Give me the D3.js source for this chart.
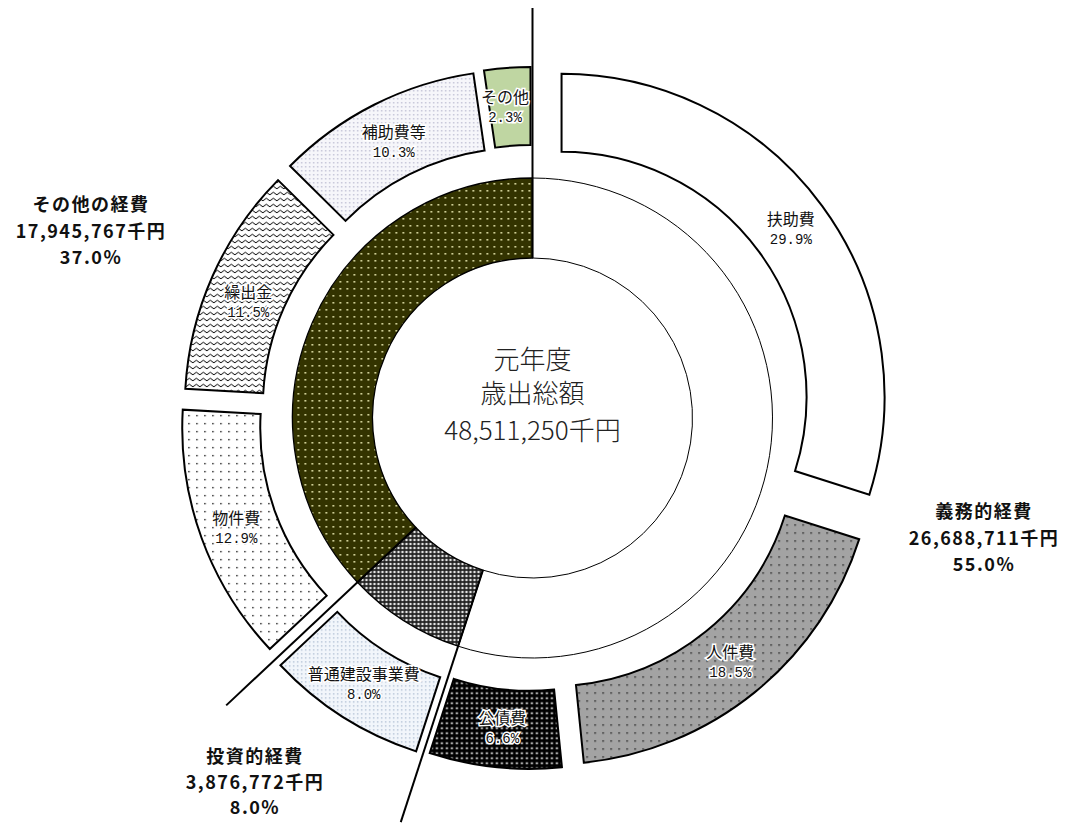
<!DOCTYPE html>
<html><head><meta charset="utf-8">
<script src="https://cdn.jsdelivr.net/npm/d3@7"></script>
<style>body{margin:0;background:#fff}</style>
</head><body><svg id="c" width="1067" height="823"></svg>
<script>
// ---- data ----
const groupNames = ["義務的経費", "投資的経費", "その他の経費"];
const groupValues = [26688711, 3876772, 17945767];
const groupPct = [55.0, 8.0, 37.0];
const itemNames = ["扶助費", "人件費", "公債費", "普通建設事業費", "物件費", "繰出金", "補助費等", "その他"];
const itemPct = [29.9, 18.5, 6.6, 8.0, 12.9, 11.5, 10.3, 2.3];
const centerTitle = ["元年度", "歳出総額"];
const totalValue = 48511250;

// ---- layout / style ----
const W = 1067, H = 823, cx = 532.5, cy = 418;
const rIn0 = 160, rIn1 = 240, rOut0 = 245, rOut1 = 323;
const explode = [36, 30, 28, 31, 29, 27, 28, 28];
const labelNudge = [[0,0],[0,0],[3,0],[0,0],[-2,3],[0,10],[2,2],[-5,0]];
const itemFill = ["#fff", "url(#pJin)", "url(#pKou)", "url(#pFutsu)", "url(#pButsu)", "url(#pKuri)", "url(#pHojo)", "#bfd6a2"];
const groupFill = ["#fff", "url(#pTou)", "url(#pOlive)"];
const groupLabelPos = [[984, 510], [255, 755], [91, 203]];
const groupLineGap = [26.5, 25.5, 26.5];
const lineR = [410, 425, 420];

const svg = d3.select("#c");
svg.append("rect").attr("width", W).attr("height", H).attr("fill", "#fff");
const defs = svg.append("defs");

function pat(id, w, h, bg, draw) {
  const p = defs.append("pattern").attr("id", id).attr("patternUnits", "userSpaceOnUse")
    .attr("width", w).attr("height", h);
  p.append("rect").attr("width", w).attr("height", h).attr("fill", bg);
  draw(p);
}
pat("pOlive", 7, 7, "#333300", p => p.append("rect").attr("x", 3).attr("y", 3).attr("width", 1.6).attr("height", 1.6).attr("fill", "#f2f2b8"));
pat("pTou", 4, 4, "#222", p => {
  p.append("path").attr("d", "M2,0.5 L3.5,2 L2,3.5 L0.5,2Z").attr("fill", "#fff");
});
pat("pJin", 8, 8, "#a3a3a3", p => p.append("rect").attr("x", 3).attr("y", 3).attr("width", 1.4).attr("height", 1.4).attr("fill", "#111"));
pat("pKou", 5, 5, "#000", p => p.append("rect").attr("x", 1.5).attr("y", 1.5).attr("width", 1.8).attr("height", 1.8).attr("fill", "#fff"));
pat("pFutsu", 4, 4, "#f2f6fb", p => p.append("rect").attr("x", 1).attr("y", 1).attr("width", 1.5).attr("height", 1.5).attr("fill", "#b9c6d8"));
pat("pButsu", 8, 8, "#fff", p => p.append("rect").attr("x", 3).attr("y", 3).attr("width", 1.4).attr("height", 1.4).attr("fill", "#111"));
pat("pKuri", 7, 6, "#fff", p => p.append("path").attr("d", "M-0.5,4.2 L3.5,1.2 L7.5,4.2").attr("fill", "none").attr("stroke", "#000").attr("stroke-width", 1));
pat("pHojo", 4, 4, "#f6f6fa", p => p.append("rect").attr("x", 1).attr("y", 1).attr("width", 1.5).attr("height", 1.5).attr("fill", "#c6c6d8"));

const g = svg.append("g").attr("transform", `translate(${cx},${cy})`);

const pie = d3.pie().sort(null).value(d => d);
const itemArcs = pie(itemPct);
const groupArcs = pie(groupValues);

const arcOut = d3.arc().innerRadius(rOut0).outerRadius(rOut1);
const arcIn = d3.arc().innerRadius(rIn0).outerRadius(rIn1);

function offs(a, d) {
  const m = (a.startAngle + a.endAngle) / 2;
  return [Math.sin(m) * d, -Math.cos(m) * d];
}

// outer ring
g.selectAll("path.out").data(itemArcs).join("path").attr("class", "out")
  .attr("d", arcOut)
  .attr("transform", (a, i) => { const o = offs(a, explode[i]); return `translate(${o[0]},${o[1]})`; })
  .attr("fill", (a, i) => itemFill[i])
  .attr("stroke", "#000").attr("stroke-width", 2).attr("stroke-linejoin", "miter");

// inner ring
g.selectAll("path.in").data(groupArcs).join("path").attr("class", "in")
  .attr("d", arcIn)
  .attr("fill", (a, i) => groupFill[i])
  .attr("stroke", "#000").attr("stroke-width", (a, i) => i === 0 ? 1 : 1.3);

// separator lines at group boundaries
g.selectAll("line.sep").data(groupArcs).join("line").attr("class", "sep")
  .attr("x1", a => Math.sin(a.startAngle) * rIn0)
  .attr("y1", a => -Math.cos(a.startAngle) * rIn0)
  .attr("x2", (a, i) => Math.sin(a.startAngle) * lineR[i])
  .attr("y2", (a, i) => -Math.cos(a.startAngle) * lineR[i])
  .attr("stroke", "#000").attr("stroke-width", 2);

// outer labels
const fmtPct = d3.format(".1f");
const lbl = g.selectAll("g.lbl").data(itemArcs).join("g").attr("class", "lbl")
  .attr("transform", (a, i) => {
    const m = (a.startAngle + a.endAngle) / 2;
    const r = (rOut0 + rOut1) / 2 + explode[i];
    return `translate(${Math.sin(m) * r + labelNudge[i][0]},${-Math.cos(m) * r + labelNudge[i][1]})`;
  });
lbl.append("text").attr("y", -11).attr("text-anchor", "middle").attr("dominant-baseline", "central")
  .attr("font-family", "'Noto Sans CJK JP', sans-serif").attr("font-size", 16)
  .attr("fill", "#111").attr("stroke", "#fff").attr("stroke-width", 3).attr("paint-order", "stroke")
  .text((a, i) => itemNames[i]);
lbl.append("text").attr("y", 11).attr("text-anchor", "middle").attr("dominant-baseline", "central")
  .attr("font-family", "'Liberation Mono', monospace").attr("font-size", 14)
  .attr("fill", "#111").attr("stroke", "#fff").attr("stroke-width", 3).attr("paint-order", "stroke")
  .text((a, i) => fmtPct(itemPct[i]) + "%");

// center text
const ct = svg.append("g").attr("font-family", "'Noto Sans CJK JP', sans-serif")
  .attr("font-size", 26).attr("font-weight", 300).attr("fill", "#222").attr("text-anchor", "middle");
[...centerTitle, d3.format(",")(totalValue) + "千円"].forEach((t, i) => {
  ct.append("text").attr("x", cx).attr("y", [357, 391, 428][i]).attr("dominant-baseline", "central").text(t);
});

// group labels
const fmtN = d3.format(",");
groupNames.forEach((nm, i) => {
  const [x, y] = groupLabelPos[i];
  const gg = svg.append("g").attr("font-family", "'Noto Sans CJK JP', sans-serif").attr("font-weight", 700)
    .attr("font-size", 18).attr("letter-spacing", 1.5).attr("fill", "#111").attr("text-anchor", "middle");
  [nm, fmtN(groupValues[i]) + "千円", fmtPct(groupPct[i]) + "%"].forEach((t, k) => {
    gg.append("text").attr("x", x).attr("y", y + k * groupLineGap[i]).attr("dominant-baseline", "central").text(t);
  });
});
</script></body></html>
